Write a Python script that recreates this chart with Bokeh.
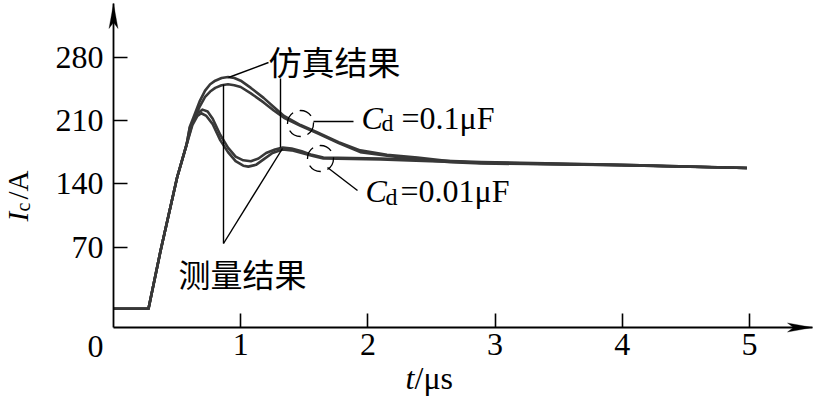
import math
from bokeh.plotting import figure
from bokeh.models import Label, PolyAnnotation, FixedTicker, Range1d
from bokeh.embed import file_html
from bokeh.resources import INLINE

# ---------------- data ----------------
t_rise = [0.0, 0.275, 0.37, 0.50, 0.574]
i_rise = [2, 2, 66, 147, 183]

t_sim_001 = [0.62, 0.66, 0.70, 0.74, 0.78, 0.84, 0.90, 0.96, 1.02, 1.08, 1.14, 1.20, 1.27, 1.33, 1.40, 1.48, 1.56, 1.65, 2.10, 2.49, 2.89, 3.99, 4.98]
i_sim_001 = [207, 218, 222, 220, 212, 194, 180, 170, 166, 165, 168, 174, 178, 180, 179, 176, 172, 169, 168, 166, 164, 161, 157.5]

t_meas_001 = [0.62, 0.66, 0.69, 0.73, 0.78, 0.84, 0.90, 0.96, 1.02, 1.06, 1.12, 1.18, 1.25, 1.33, 1.40, 1.48, 1.56, 1.65, 2.10, 2.49, 2.89, 3.99, 4.98]
i_meas_001 = [205, 215, 218, 215, 206, 188, 175, 165, 160, 159, 161, 167, 174, 178, 177, 174, 171, 168, 167, 165, 163.5, 160.5, 157.5]

t_sim_01 = [0.60, 0.63, 0.68, 0.72, 0.76, 0.80, 0.85, 0.90, 0.95, 1.00, 1.08, 1.18, 1.26, 1.34, 1.47, 1.60, 1.77, 1.94, 2.15, 2.39, 2.65, 2.89, 3.99, 4.98]
i_sim_01 = [203, 214, 232, 243, 250, 254, 257, 258, 257, 254, 246, 235, 225, 215, 205, 197, 186, 177, 172, 169, 165, 163, 161, 157.5]

t_meas_01 = [0.60, 0.63, 0.68, 0.72, 0.76, 0.80, 0.85, 0.90, 0.95, 1.00, 1.08, 1.18, 1.26, 1.34, 1.47, 1.60, 1.77, 1.94, 2.15, 2.39, 2.65, 2.89, 3.99, 4.98]
i_meas_01 = [202, 210, 226, 236, 242, 246, 249, 250, 249, 247, 240, 230, 221, 213, 204, 196, 185, 175, 171, 167, 164, 162.5, 160.5, 157.5]

x_ticks = [1, 2, 3, 4, 5]
y_ticks = [70, 140, 210, 280]

# ---------------- layout ----------------
W, H = 817, 397
X0_PX, Y0_PX = 113.0, 310.0      # canvas pixel of t=0 / I=0
PX, PY = 127.2, 0.9048          # pixels per unit
XMIN, XMAX = (0 - X0_PX) / PX, (W - X0_PX) / PX
YMIN, YMAX = (Y0_PX - H) / PY, (Y0_PX - 0) / PY


def pg(px, py):
    """canvas pixel -> data coords (for annotation placement)"""
    return (px - X0_PX) / PX, (Y0_PX - py) / PY


X_AXIS_AT = pg(0, 327)[1]
X_END = pg(812, 0)[0]
Y_END = pg(0, 3)[1]

p = figure(width=W, height=H, output_backend="svg", toolbar_location=None,
           x_range=Range1d(XMIN, XMAX), y_range=Range1d(YMIN, YMAX),
           min_border=0, min_border_left=0, min_border_right=0,
           min_border_top=0, min_border_bottom=0)
p.grid.visible = False
p.outline_line_color = None
p.background_fill_color = "white"
p.border_fill_color = "white"

for ax in (p.xaxis[0], p.yaxis[0]):
    ax.axis_line_width = 1.8
    ax.axis_line_color = "black"
    ax.major_tick_in = 14
    ax.major_tick_out = 0
    ax.major_tick_line_width = 1.6
    ax.major_tick_line_color = "black"
    ax.minor_tick_line_color = None
    ax.major_label_text_font = "Liberation Serif"
    ax.major_label_text_font_size = "32px"
    ax.major_label_text_color = "black"
p.xaxis.ticker = FixedTicker(ticks=x_ticks)
p.yaxis.ticker = FixedTicker(ticks=y_ticks)
p.xaxis.fixed_location = X_AXIS_AT
p.yaxis.fixed_location = 0
p.xaxis.bounds = (0, X_END)
p.yaxis.bounds = (X_AXIS_AT, Y_END)
p.xaxis.major_label_standoff = 6
p.yaxis.major_label_standoff = 10

# ---------------- curves ----------------
CURVE = "#383838"
for tt, ii in ((t_sim_01, i_sim_01), (t_meas_01, i_meas_01),
               (t_sim_001, i_sim_001), (t_meas_001, i_meas_001)):
    p.line(t_rise + tt, i_rise + ii, line_color=CURVE, line_width=2.6,
           line_join="round")

# ---------------- annotations ----------------
def seg(a, b, w=1.4):
    (x0, y0), (x1, y1) = pg(*a), pg(*b)
    p.line([x0, x1], [y0, y1], line_color="black", line_width=w)

seg((268, 62), (228, 77))      # 仿真结果 leader
seg((280, 78), (280, 147))     # vertical to hump
seg((223, 84), (223, 243))     # 测量结果 vertical
seg((223, 243), (282, 148))    # 测量结果 slanted
seg((313, 121), (353, 121))    # Cd 0.1 leader
seg((327, 167), (357, 190))    # Cd 0.01 leader

for c in ((300, 123), (320, 158)):
    cx, cy = pg(*c)
    p.scatter([cx], [cy], marker="circle", size=26, fill_color=None,
              line_color="black", line_width=1.3, line_dash="13 7")

# axis arrows
hw, L, n = 4.5 / PX, 25 / PY, 19 / PY
p.add_layout(PolyAnnotation(xs=[0, -hw, 0, hw],
                            ys=[Y_END, Y_END - L, Y_END - n, Y_END - L],
                            fill_color="black", fill_alpha=1,
                            line_color="black", line_width=1))
hh, Lx, nx = 4.5 / PY, 25 / PX, 19 / PX
p.add_layout(PolyAnnotation(xs=[X_END, X_END - Lx, X_END - nx, X_END - Lx],
                            ys=[X_AXIS_AT, X_AXIS_AT + hh, X_AXIS_AT, X_AXIS_AT - hh],
                            fill_color="black", fill_alpha=1,
                            line_color="black", line_width=1))

SERIF = "Liberation Serif"
CJK = "Noto Sans CJK SC"


def lab(px, py, text, font=SERIF, size="32px", style="normal",
        align="left", baseline="middle", angle=0.0):
    x, y = pg(px, py)
    p.add_layout(Label(x=x, y=y, text=text, text_font=font,
                       text_font_size=size, text_font_style=style,
                       text_align=align, text_baseline=baseline,
                       text_color="black", angle=angle))

lab(268, 60, "仿真结果", font=CJK, size="33px")
lab(178, 272, "测量结果", font=CJK, size="32px")

lab(361, 117, "C", style="italic")
lab(381, 122, "d", size="24px")
lab(401, 117, "=0.1μF")

lab(365, 190, "C", style="italic")
lab(385, 196, "d", size="24px")
lab(400, 190, "=0.01μF")

lab(95, 346, "0", align="center")

lab(405, 377, "t", style="italic")
lab(414, 377, "/μs")

lab(17, 221, "I", size="29px", style="italic", angle=math.pi / 2)
lab(22, 211, "c", size="20px", angle=math.pi / 2)
lab(17, 199, "/A", size="29px", angle=math.pi / 2)

open("out.html", "w").write(file_html(p, INLINE))
